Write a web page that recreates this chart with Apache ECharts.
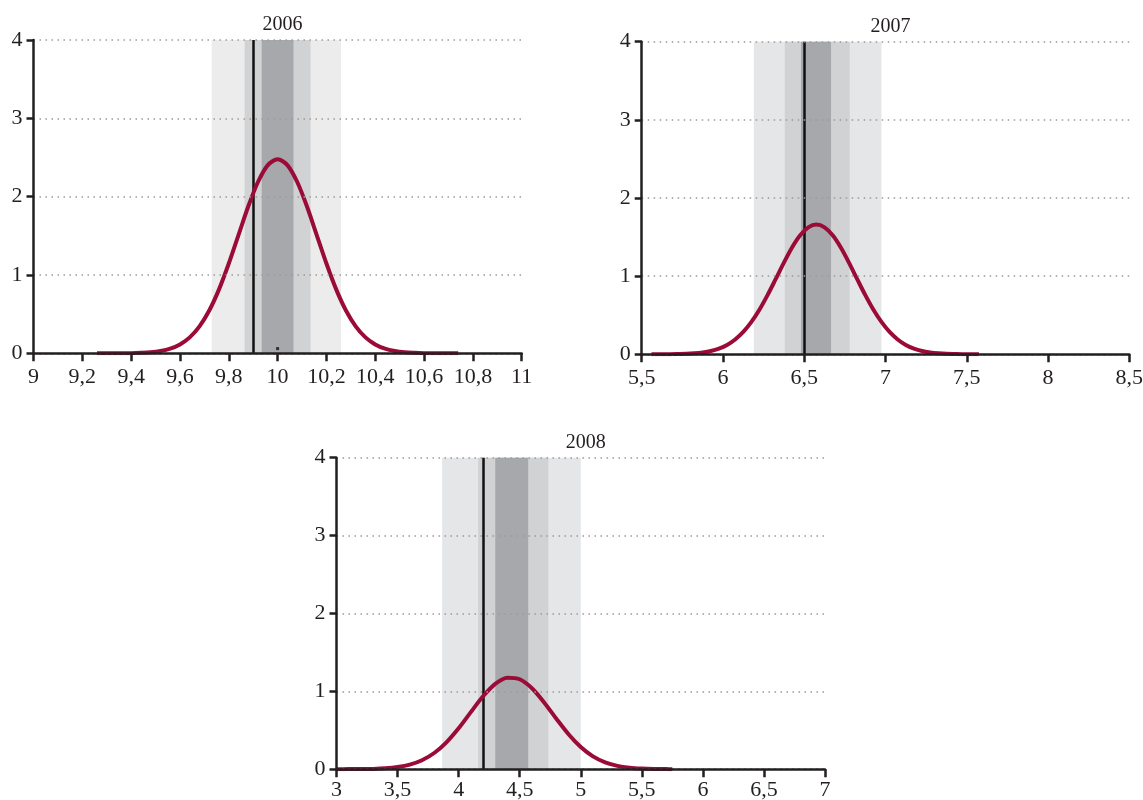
<!DOCTYPE html>
<html>
<head>
<meta charset="utf-8">
<script src="https://cdn.jsdelivr.net/npm/echarts@6/dist/echarts.min.js"></script>
<style>
  html, body { margin: 0; padding: 0; background: #ffffff; }
  #chart { width: 1143px; height: 800px; }
</style>
</head>
<body>
<div id="chart"></div>
<script>
// ---------- data ----------
const years = ['2006', '2007', '2008'];

// x-axis ranges and tick steps
const xMin = [9, 5.5, 3];
const xMax = [11, 8.5, 7];
const xStep = [0.2, 0.5, 0.5];
const yTicks = [0, 1, 2, 3, 4];

// density curves (x, y) per year
const curveX2006 = [9.26, 9.28, 9.32, 9.36, 9.40, 9.44, 9.48, 9.52, 9.56, 9.60, 9.64, 9.68, 9.72, 9.76, 9.80, 9.84, 9.88, 9.92, 9.96,
  10.00, 10.04, 10.08, 10.12, 10.16, 10.20, 10.24, 10.28, 10.32, 10.36, 10.40, 10.44, 10.48, 10.52, 10.56, 10.60, 10.64, 10.68, 10.72, 10.74];
const curveY2006 = [0, 0, 0, 0.001, 0.002, 0.006, 0.013, 0.029, 0.059, 0.113, 0.203, 0.344, 0.546, 0.816, 1.146, 1.512, 1.877, 2.190, 2.403,
  2.478, 2.403, 2.190, 1.877, 1.512, 1.146, 0.816, 0.546, 0.344, 0.203, 0.113, 0.059, 0.029, 0.013, 0.006, 0.002, 0.001, 0, 0, 0];

const curveX2007 = [5.56, 5.575, 5.625, 5.675, 5.725, 5.775, 5.825, 5.875, 5.925, 5.975, 6.025, 6.075, 6.125, 6.175, 6.225, 6.275, 6.325, 6.375, 6.425, 6.475, 6.525,
  6.575, 6.625, 6.675, 6.725, 6.775, 6.825, 6.875, 6.925, 6.975, 7.025, 7.075, 7.125, 7.175, 7.225, 7.275, 7.325, 7.375, 7.425, 7.475, 7.525, 7.575];
const curveY2007 = [0, 0, 0.001, 0.001, 0.003, 0.006, 0.013, 0.024, 0.042, 0.073, 0.120, 0.190, 0.286, 0.414, 0.573, 0.760, 0.965, 1.173, 1.366, 1.522, 1.624,
  1.660, 1.624, 1.522, 1.366, 1.173, 0.965, 0.760, 0.573, 0.414, 0.286, 0.190, 0.120, 0.073, 0.042, 0.024, 0.013, 0.006, 0.003, 0.001, 0.001, 0];

const curveX2008 = [3.0, 3.1, 3.2, 3.3, 3.4, 3.5, 3.6, 3.7, 3.8, 3.9, 4.0, 4.1, 4.2, 4.3, 4.4, 4.5, 4.6, 4.7, 4.8, 4.9,
  5.0, 5.1, 5.2, 5.3, 5.4, 5.5, 5.6, 5.7, 5.75];
const curveY2008 = [0, 0.001, 0.002, 0.004, 0.011, 0.027, 0.058, 0.115, 0.208, 0.345, 0.525, 0.733, 0.936, 1.096, 1.175, 1.155, 1.040, 0.858, 0.648, 0.449,
  0.285, 0.165, 0.088, 0.043, 0.019, 0.008, 0.003, 0.001, 0];

// fan-chart bands: [outer lo, mid lo, inner lo, inner hi, mid hi, outer hi]
const bands2006 = [9.73, 9.865, 9.935, 10.065, 10.135, 10.26];
const bands2007 = [6.19, 6.38, 6.48, 6.665, 6.78, 6.975];
const bands2008 = [3.865, 4.16, 4.30, 4.57, 4.735, 5.0];

// vertical reference line (actual value)
const refLine = [9.9, 6.5, 4.2];

// small marker near base in 2006 panel
const markX2006 = [10.0];
const markY2006 = [0.06];

// ---------- layout & style ----------
const grids = [
  { left: 33.5, top: 40, width: 488.2, height: 313.3 },
  { left: 641.7, top: 41.7, width: 487.6, height: 312.6 },
  { left: 336.5, top: 457.7, width: 488.5, height: 311.5 }
];
const titleTops = [10, 12, 428];
const xLabelMargins = [13, 13, 10];
const lightColors = ['#ececec', '#e5e6e8', '#e5e6e8'];
const midColor = '#d1d2d4';
const darkColor = '#a7a8ab';
const curveColor = '#9b0b37';
const inkColor = '#231f20';
const fontFam = '"Liberation Serif", "DejaVu Serif", serif';

const curvesX = [curveX2006, curveX2007, curveX2008];
const curvesY = [curveY2006, curveY2007, curveY2008];
const bands = [bands2006, bands2007, bands2008];

const fmt = v => String(Math.round(v * 1000) / 1000).replace('.', ',');

const option = {
  animation: false,
  backgroundColor: '#ffffff',
  title: years.map((y, i) => ({
    text: y,
    left: grids[i].left + grids[i].width / 2,
    top: titleTops[i],
    textAlign: 'center',
    textStyle: { fontFamily: fontFam, fontSize: 20, fontWeight: 'normal', color: inkColor }
  })),
  grid: grids.map(g => Object.assign({ containLabel: false, outerBoundsMode: 'none' }, g)),
  xAxis: years.map((y, i) => ({
    type: 'value',
    gridIndex: i,
    min: xMin[i],
    max: xMax[i],
    interval: xStep[i],
    axisLine: { show: true, onZero: false, lineStyle: { color: inkColor, width: 2.5 } },
    axisTick: { show: true, inside: false, length: 8, lineStyle: { color: inkColor, width: 2.5 } },
    axisLabel: { margin: xLabelMargins[i], fontFamily: fontFam, fontSize: 22, color: inkColor, formatter: fmt, showMinLabel: true, showMaxLabel: true },
    splitLine: { show: false },
    z: 5
  })),
  yAxis: years.map((y, i) => ({
    type: 'value',
    gridIndex: i,
    min: yTicks[0],
    max: yTicks[yTicks.length - 1],
    interval: 1,
    axisLine: { show: true, lineStyle: { color: inkColor, width: 2.5 } },
    axisTick: { show: true, inside: false, length: 7, lineStyle: { color: inkColor, width: 2.5 } },
    axisLabel: { margin: 11, fontFamily: fontFam, fontSize: 22, color: inkColor, formatter: fmt },
    splitLine: { show: true, lineStyle: { color: '#9a9a9a', width: 1.5, type: [1.5, 4.5] } },
    z: 5
  })),
  series: []
};

years.forEach((y, i) => {
  const b = bands[i];
  const data = curvesX[i].map((x, k) => [x, curvesY[i][k]]);
  option.series.push({
    type: 'line',
    name: y,
    xAxisIndex: i,
    yAxisIndex: i,
    data: data,
    smooth: 0.3,
    showSymbol: false,
    symbol: 'none',
    lineStyle: { color: curveColor, width: 4 },
    z: 4,
    markArea: {
      silent: true,
      z: 1,
      data: [
        [{ xAxis: b[0], yAxis: 0, itemStyle: { color: lightColors[i] } }, { xAxis: b[5], yAxis: 4 }],
        [{ xAxis: b[1], yAxis: 0, itemStyle: { color: midColor } }, { xAxis: b[4], yAxis: 4 }],
        [{ xAxis: b[2], yAxis: 0, itemStyle: { color: darkColor } }, { xAxis: b[3], yAxis: 4 }]
      ]
    },
    markLine: {
      silent: true,
      symbol: 'none',
      label: { show: false },
      lineStyle: { color: '#111111', width: 2.5, type: 'solid' },
      z: 3,
      data: [[{ coord: [refLine[i], 0] }, { coord: [refLine[i], 4] }]]
    }
  });
});

option.series.push({
  type: 'scatter',
  xAxisIndex: 0,
  yAxisIndex: 0,
  data: markX2006.map((x, k) => [x, markY2006[k]]),
  symbol: 'rect',
  symbolSize: [3, 3],
  itemStyle: { color: '#111111' },
  z: 3
});

const chart = echarts.init(document.getElementById('chart'), null, { renderer: 'canvas' });
chart.setOption(option);
</script>
</body>
</html>
